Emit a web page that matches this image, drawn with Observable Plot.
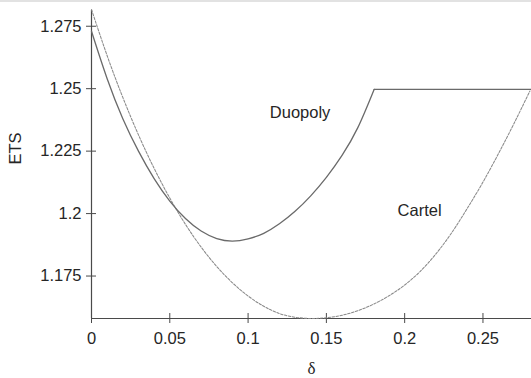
<!DOCTYPE html>
<html><head><meta charset="utf-8">
<script src="https://cdn.jsdelivr.net/npm/d3@7"></script>
<script src="https://cdn.jsdelivr.net/npm/@observablehq/plot@0.6"></script>
<style>
html,body{margin:0;padding:0;background:#fff;}
#wrap{position:relative;width:531px;height:378px;overflow:hidden}
#band{position:absolute;left:0;top:0;width:531px;height:2px;background:#e2e2e2}
</style></head><body><div id="wrap"><div id="band"></div></div>
<script>
// Cartel (dashed) curve
const cartelDelta = [0,0.01,0.02,0.03,0.04,0.05,0.06,0.07,0.08,0.09,0.10,0.11,0.12,0.13,0.14,0.15,0.16,0.17,0.18,0.19,0.20,0.21,0.22,0.23,0.24,0.25,0.26,0.27,0.28];
const cartelETS   = [1.2817,1.2632,1.2465,1.2315,1.2181,1.2062,1.1957,1.1866,1.1788,1.1723,1.1670,1.1629,1.1600,1.1585,1.1580,1.1583,1.1593,1.1611,1.1637,1.1671,1.1714,1.1769,1.1839,1.1923,1.2021,1.2126,1.2241,1.2363,1.2491];
// Duopoly (solid) curve
const duopolyDelta = [0,0.01,0.02,0.03,0.04,0.05,0.06,0.07,0.08,0.09,0.10,0.11,0.12,0.13,0.14,0.15,0.16,0.17,0.1805,0.281];
const duopolyETS   = [1.273,1.254,1.238,1.225,1.214,1.205,1.198,1.193,1.190,1.189,1.1899,1.1921,1.1959,1.2009,1.2071,1.2145,1.2233,1.2343,1.2497,1.2497];
const kinkDelta = 0.1805;

const xTicks = [0,0.05,0.1,0.15,0.2,0.25];
const xTickLabels = ["0","0.05","0.1","0.15","0.2","0.25"];
const yTicks = [1.175,1.2,1.225,1.25,1.275];
const yTickLabels = ["1.175","1.2","1.225","1.25","1.275"];
const xDomain = [0, 0.281];
const yDomain = [1.158, 1.2813];

const seriesLabels = [
  {delta: 0.1332, ets: 1.2404, text: "Duopoly"},
  {delta: 0.2095, ets: 1.2011, text: "Cartel"}
];

const cartel = cartelDelta.map((d,i)=>({delta:d, ets:cartelETS[i]}));
const duopoly = duopolyDelta.map((d,i)=>({delta:d, ets:duopolyETS[i]}));

const axisColor = "#4a4a4a";
const textColor = "#262626";

const chart = Plot.plot({
  width: 531, height: 378,
  marginLeft: 91, marginRight: 0, marginTop: 10, marginBottom: 60,
  style: {fontSize: "16.5px", fontFamily: "'Liberation Sans', Arial, sans-serif", background: "transparent", color: textColor},
  x: {domain: xDomain, label: null},
  y: {domain: yDomain, label: null},
  marks: [
    Plot.ruleY([yDomain[0]], {stroke: axisColor, strokeWidth: 1.2}),
    Plot.ruleX([0], {stroke: axisColor, strokeWidth: 1.2}),
    Plot.axisX(xTicks, {tickSize: 10, dy: -5, tickPadding: 9, stroke: axisColor, fill: textColor,
      tickFormat: d => xTickLabels[xTicks.indexOf(d)]}),
    Plot.axisY(yTicks, {tickSize: 10, dx: 5, tickPadding: 5, stroke: axisColor, fill: textColor,
      tickFormat: d => yTickLabels[yTicks.indexOf(d)]}),
    Plot.line(cartel, {x: "delta", y: "ets", stroke: "#8a8a8a", strokeWidth: 1.05, strokeDasharray: "2.5,1.5", curve: "natural"}),
    Plot.line(duopoly.filter(d => d.delta <= kinkDelta), {x: "delta", y: "ets", stroke: "#6a6a6a", strokeWidth: 1.3, curve: "natural"}),
    Plot.line(duopoly.filter(d => d.delta >= kinkDelta), {x: "delta", y: "ets", stroke: "#6a6a6a", strokeWidth: 1.3}),
    Plot.text(seriesLabels, {x: "delta", y: "ets", text: "text", fill: textColor}),
    Plot.text(["ETS"], {frameAnchor: "left", dx: -76, rotate: -90, fill: textColor}),
    Plot.text(["δ"], {frameAnchor: "bottom", dy: 55, fill: textColor, fontFamily: "'Liberation Serif', 'Times New Roman', serif", fontSize: 17})
  ]
});
document.getElementById("wrap").appendChild(chart);
chart.style.position = "absolute";
chart.style.left = "0"; chart.style.top = "0";
document.getElementById("band").style.zIndex = 2;
</script>
</body></html>
